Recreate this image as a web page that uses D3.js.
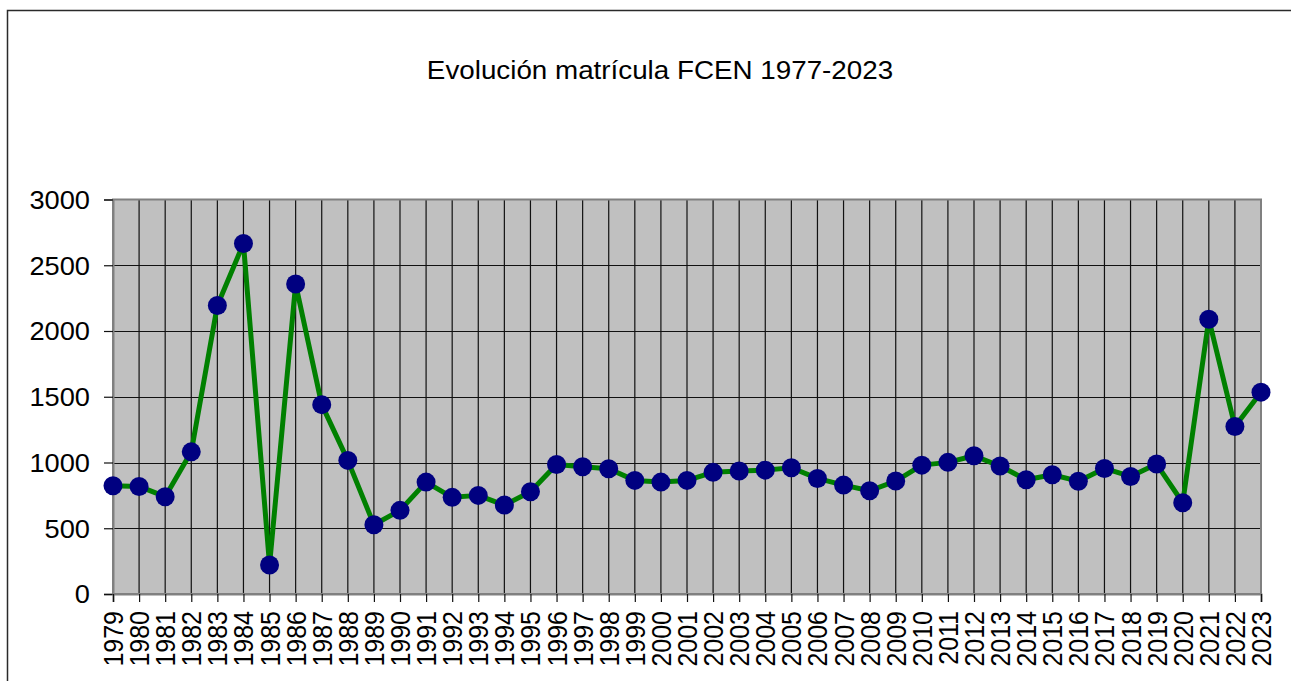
<!DOCTYPE html>
<html>
<head>
<meta charset="utf-8">
<script src="https://cdn.jsdelivr.net/npm/d3@7"></script>
<style>
    body { margin: 0; background: #ffffff; overflow: hidden; }
    svg { display: block; font-family: "Liberation Sans", Arial, sans-serif; }
</style>
</head>
<body>
<svg id="chart" width="1291" height="681"></svg>
<script>
let years = ["1979", "1980", "1981", "1982", "1983", "1984", "1985", "1986", "1987", "1988",
             "1989", "1990", "1991", "1992", "1993", "1994", "1995", "1996", "1997", "1998",
             "1999", "2000", "2001", "2002", "2003", "2004", "2005", "2006", "2007", "2008",
             "2009", "2010", "2011", "2012", "2013", "2014", "2015", "2016", "2017", "2018",
             "2019", "2020", "2021", "2022", "2023"];

let enrolment = [823, 818, 740, 1081, 2194, 2665, 220, 2358, 1440, 1016,
                 527, 636, 851, 735, 750, 676, 777, 985, 967, 952,
                 864, 851, 864, 925, 935, 942, 960, 879, 828, 785,
                 859, 980, 1001, 1051, 973, 869, 907, 858, 955, 894,
                 988, 694, 2090, 1274, 1535];

let yTicks = [0, 500, 1000, 1500, 2000, 2500, 3000];

let title = "Evolución matrícula FCEN 1977-2023";

let svg = d3.select("#chart");
let plotLeft = 113, plotRight = 1261, plotTop = 199.5, plotBottom = 594;
let stretch = 1.09; // text in the picture is a bit wider than tall
let fontSize = 25;

let x = d3.scalePoint().domain(years).range([plotLeft, plotRight]).padding(0);
let y = d3.scaleLinear().domain([0, 3000]).range([plotBottom, plotTop]);

// outer chart frame, only the top and left edges are in the picture
svg.append("path")
    .attr("d", "M7.5,681V10.5H1291")
    .attr("fill", "none")
    .attr("stroke", "#2a2a2a")
    .attr("stroke-width", 1.5);

// title
svg.append("text")
    .attr("transform", `translate(660, 79) scale(${stretch},1)`)
    .attr("text-anchor", "middle")
    .attr("font-size", 25.5)
    .attr("fill", "#000")
    .text(title);

// plot background
svg.append("rect")
    .attr("x", plotLeft).attr("y", plotTop)
    .attr("width", plotRight - plotLeft).attr("height", plotBottom - plotTop)
    .attr("fill", "#c0c0c0");

// gridlines
svg.append("g")
    .selectAll("line")
    .data(yTicks.slice(1, -1))
    .enter()
    .append("line")
    .attr("x1", plotLeft).attr("x2", plotRight)
    .attr("y1", d => Math.round(y(d)) + 0.5)
    .attr("y2", d => Math.round(y(d)) + 0.5)
    .attr("stroke", "#111")
    .attr("stroke-width", 1.2);

svg.append("g")
    .selectAll("line")
    .data(years.slice(1, -1))
    .enter()
    .append("line")
    .attr("x1", d => x(d)).attr("x2", d => x(d))
    .attr("y1", plotTop).attr("y2", plotBottom)
    .attr("stroke", "#111")
    .attr("stroke-width", 1.2);

// plot border
svg.append("rect")
    .attr("x", plotLeft).attr("y", plotTop)
    .attr("width", plotRight - plotLeft).attr("height", plotBottom - plotTop)
    .attr("fill", "none")
    .attr("stroke", "#808080")
    .attr("stroke-width", 2);

// y axis
let yAxis = d3.axisLeft(y).tickValues(yTicks).tickFormat(d3.format("d")).tickSize(9).tickPadding(14);
let gy = svg.append("g")
    .attr("transform", `translate(${plotLeft}, 0)`)
    .call(yAxis);
gy.select(".domain").attr("stroke", "#808080").attr("stroke-width", 2);
gy.selectAll(".tick line").attr("stroke", "#111").attr("stroke-width", 1.2);
gy.selectAll(".tick text")
    .attr("font-size", fontSize)
    .attr("font-family", "Liberation Sans, Arial, sans-serif")
    .attr("fill", "#000")
    .attr("dy", "0.35em")
    .attr("transform", function () {
        let tx = +d3.select(this).attr("x");
        return `translate(${tx}, 0) scale(${stretch},1) translate(${-tx}, 0)`;
    });

// x axis
let xAxis = d3.axisBottom(x).tickSize(8).tickFormat(d => d);
let gx = svg.append("g")
    .attr("transform", `translate(0, ${plotBottom})`)
    .call(xAxis);
gx.select(".domain").attr("stroke", "#808080").attr("stroke-width", 2);
gx.selectAll(".tick line").attr("stroke", "#111").attr("stroke-width", 1.2);
gx.selectAll(".tick text")
    .attr("font-size", fontSize)
    .attr("font-family", "Liberation Sans, Arial, sans-serif")
    .attr("fill", "#000")
    .attr("text-anchor", "end")
    .attr("x", 0).attr("y", 0)
    .attr("dy", "0.35em")
    .attr("transform", `translate(0, 17) scale(${stretch},1) rotate(-90)`);

// series line
let points = years.map((yr, i) => ({ year: yr, value: enrolment[i] }));

svg.append("path")
    .datum(points)
    .attr("fill", "none")
    .attr("stroke", "#008000")
    .attr("stroke-width", 5)
    .attr("stroke-linejoin", "round")
    .attr("d", d3.line().x(d => x(d.year)).y(d => y(d.value)));

// markers
svg.append("g")
    .selectAll("circle")
    .data(points)
    .enter()
    .append("circle")
    .attr("cx", d => x(d.year))
    .attr("cy", d => y(d.value))
    .attr("r", 9.5)
    .attr("fill", "#000080");
</script>
</body>
</html>
